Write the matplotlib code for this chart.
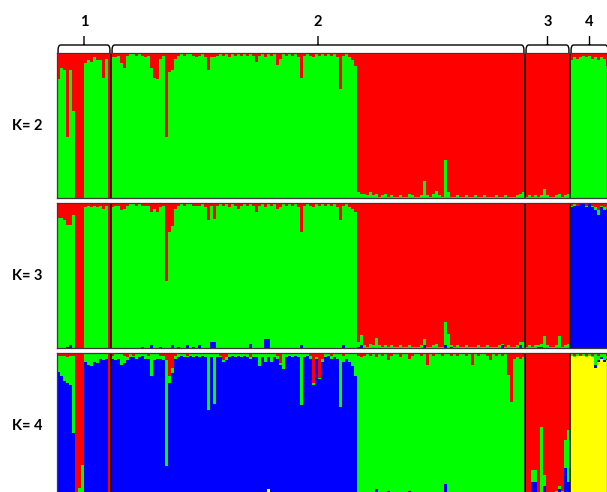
import matplotlib
matplotlib.use("Agg")
import matplotlib.pyplot as plt
import numpy as np
from matplotlib.path import Path
from matplotlib.patches import PathPatch
from matplotlib.transforms import blended_transform_factory

# ---------------- data (membership, %) ----------------
POP_LABELS = ["1", "2", "3", "4"]
POP_SIZES = [18, 138, 15, 13]

# K = 2 : red listed, green = remainder
K2_RED_P1 = [18, 10, 12, 58, 12, 40, 100, 100, 100, 7, 5, 6, 3, 5, 5, 17, 4, 100]
K2_RED_P2 = [3, 3, 2, 7, 10, 2, 1, 1, 2, 1,
             2, 3, 2, 10, 17, 18, 4, 2, 58, 13,
             12, 4, 2, 1, 2, 1, 1, 2, 3, 2,
             1, 3, 12, 3, 3, 2, 1, 2, 1, 3,
             1, 2, 1, 2, 1, 2, 1, 2, 6, 2,
             1, 3, 1, 2, 1, 8, 4, 1, 2, 1,
             2, 1, 3, 17, 2, 1, 2, 3, 1, 2,
             1, 2, 1, 2, 1, 3, 25, 2, 1, 3,
             5, 9, 96, 97, 97, 98, 96, 98, 97, 99,
             98, 97, 99, 98, 99, 99, 98, 99, 99, 97,
             98, 99, 99, 98, 88, 98, 99, 97, 95, 98,
             99, 74, 96, 99, 99, 98, 99, 99, 98, 99,
             99, 98, 99, 99, 98, 99, 99, 99, 98, 99,
             99, 98, 99, 99, 99, 98, 97, 96]
K2_RED_P3 = [99, 98, 99, 98, 99, 98, 94, 98, 99, 99, 98, 97, 99, 98, 97]
K2_RED_P4 = [5, 3, 4, 3, 2, 3, 2, 4, 3, 5, 3, 4, 9]

# K = 3 : red and blue listed, green = remainder
K3_RED_P1 = [10, 10, 12, 15, 15, 8, 100, 100, 100, 3, 2, 3, 2, 3, 2, 4, 2, 100]
K3_RED_P2 = [3, 2, 2, 5, 4, 2, 1, 1, 2, 1,
             2, 2, 2, 6, 4, 6, 3, 2, 54, 20,
             16, 4, 2, 1, 2, 1, 1, 2, 2, 2,
             1, 3, 12, 2, 11, 2, 1, 2, 1, 3,
             1, 2, 4, 2, 1, 2, 1, 2, 6, 2,
             1, 3, 1, 2, 1, 4, 3, 1, 2, 1,
             2, 1, 3, 20, 2, 1, 2, 3, 1, 2,
             1, 2, 1, 2, 1, 3, 12, 2, 1, 3,
             4, 6, 96, 91, 98, 99, 97, 98, 93, 98,
             99, 98, 99, 98, 99, 99, 98, 99, 99, 98,
             99, 99, 99, 98, 94, 99, 99, 98, 97, 99,
             99, 82, 90, 98, 99, 98, 99, 99, 98, 99,
             99, 99, 98, 99, 99, 98, 99, 99, 99, 98,
             97, 99, 98, 99, 99, 98, 96, 96]
K3_RED_P3 = [99, 98, 99, 98, 98, 97, 92, 98, 99, 99, 98, 92, 99, 98, 97]
K3_RED_P4 = [2, 1, 2, 1, 1, 2, 1, 2, 3, 5, 2, 3, 3]

K3_BLUE_P1 = [0, 0, 0, 1, 2, 0, 0, 0, 0, 0, 0, 0, 0, 0, 0, 0, 0, 0]
K3_BLUE_P2 = [0, 0, 0, 0, 0, 0, 0, 0, 0, 0,
              1, 0, 0, 2, 0, 0, 1, 0, 0, 0,
              2, 0, 1, 0, 0, 2, 0, 1, 0, 2,
              0, 0, 0, 4, 4, 0, 0, 0, 0, 0,
              0, 0, 0, 0, 0, 0, 3, 0, 0, 0,
              0, 6, 6, 0, 0, 0, 0, 0, 0, 0,
              0, 0, 0, 2, 0, 0, 0, 0, 0, 0,
              0, 0, 0, 0, 0, 0, 0, 2, 0, 0,
              0, 0, 1, 2, 0, 0, 0, 0, 0, 0,
              0, 0, 0, 0, 0, 0, 0, 0, 0, 0,
              0, 0, 0, 0, 2, 0, 0, 0, 0, 0,
              0, 2, 0, 1, 0, 0, 0, 0, 0, 0,
              0, 0, 0, 0, 0, 0, 0, 0, 0, 0,
              2, 0, 0, 0, 0, 0, 2, 0]
K3_BLUE_P3 = [0, 0, 0, 0, 1, 1, 0, 0, 0, 0, 0, 0, 0, 0, 0]
K3_BLUE_P4 = [97, 98, 98, 99, 99, 97, 99, 97, 95, 92, 97, 95, 96]

# K = 4 : red, green, yellow listed, blue = remainder
K4_RED_P1 = [2, 2, 2, 3, 2, 2, 100, 93, 77, 1, 1, 1, 1, 1, 1, 1, 1, 100]
K4_RED_P2 = [2, 1, 1, 1, 2, 3, 1, 2, 1, 1,
             1, 1, 2, 1, 1, 1, 2, 2, 5, 16,
             10, 2, 1, 1, 1, 2, 1, 1, 1, 1,
             1, 1, 1, 1, 1, 1, 2, 5, 3, 1,
             1, 1, 1, 1, 1, 1, 3, 1, 1, 1,
             1, 1, 1, 1, 1, 2, 7, 1, 1, 1,
             1, 1, 1, 1, 1, 1, 2, 21, 3, 17,
             4, 1, 1, 2, 1, 1, 1, 2, 1, 1,
             1, 1, 2, 3, 2, 1, 2, 1, 3, 1,
             2, 1, 5, 2, 1, 1, 3, 1, 1, 4,
             2, 1, 1, 2, 1, 8, 1, 2, 1, 1,
             2, 1, 1, 2, 1, 2, 1, 1, 2, 1,
             8, 1, 2, 1, 1, 2, 5, 1, 2, 1,
             2, 1, 15, 34, 4, 3, 4, 3]
K4_RED_P3 = [99, 98, 81, 81, 97, 51, 84, 98, 99, 98, 95, 92, 95, 60, 53]
K4_RED_P4 = [1, 2, 1, 2, 1, 2, 1, 2, 1, 2, 1, 1, 2]

K4_GREEN_P1 = [11, 14, 17, 18, 20, 53, 0, 7, 23, 5, 7, 8, 5, 6, 3, 4, 3, 0]
K4_GREEN_P2 = [2, 4, 3, 7, 5, 2, 2, 1, 3, 2,
               1, 3, 2, 15, 4, 3, 2, 3, 73, 5,
               4, 2, 2, 1, 2, 1, 1, 2, 1, 2,
               1, 2, 38, 2, 34, 2, 1, 1, 2, 2,
               1, 2, 1, 2, 1, 2, 1, 2, 2, 8,
               2, 5, 2, 5, 2, 2, 1, 10, 2, 1,
               2, 1, 2, 35, 2, 1, 2, 1, 1, 1,
               2, 2, 1, 2, 2, 3, 36, 4, 3, 5,
               8, 15, 97, 96, 98, 99, 98, 97, 91, 99,
               98, 99, 90, 98, 99, 99, 97, 99, 99, 91,
               98, 99, 99, 98, 95, 92, 99, 98, 99, 99,
               95, 89, 95, 98, 99, 98, 99, 99, 98, 99,
               92, 99, 98, 99, 99, 98, 95, 99, 98, 99,
               98, 99, 85, 66, 96, 97, 96, 97]
K4_GREEN_P3 = [1, 1, 8, 8, 2, 45, 8, 1, 1, 1, 2, 2, 3, 19, 36]
K4_GREEN_P4 = [1, 1, 1, 0, 1, 1, 1, 1, 7, 3, 2, 4, 2]

K4_YELLOW_P1 = [0] * 18
K4_YELLOW_P2 = [0, 0, 0, 0, 0, 0, 0, 0, 0, 0,
                0, 0, 0, 0, 0, 0, 0, 0, 0, 0,
                0, 0, 0, 0, 0, 0, 0, 0, 0, 0,
                0, 0, 0, 0, 0, 0, 0, 0, 0, 0,
                0, 0, 0, 0, 0, 0, 0, 0, 0, 0,
                0, 0, 6, 0, 0, 0, 0, 0, 0, 0,
                0, 0, 0, 0, 0, 0, 0, 0, 0, 0,
                0, 0, 0, 0, 0, 0, 0, 0, 0, 0,
                0, 0, 0, 0, 0, 0, 0, 0, 0, 0,
                0, 0, 0, 0, 0, 0, 0, 0, 0, 0,
                0, 0, 0, 0, 0, 0, 0, 0, 0, 0,
                0, 0, 0, 0, 0, 0, 0, 0, 0, 0,
                0, 0, 0, 0, 0, 0, 0, 0, 0, 0,
                0, 0, 0, 0, 0, 0, 0, 0]
K4_YELLOW_P3 = [0] * 15
K4_YELLOW_P4 = [98, 97, 98, 98, 98, 97, 98, 97, 90, 94, 96, 94, 95]

RED, GREEN, BLUE, YELLOW = "#ff0000", "#00ff00", "#0000ff", "#ffff00"


def cat(*parts):
    return np.concatenate([np.asarray(p, float) for p in parts]) / 100.0


k2_red = cat(K2_RED_P1, K2_RED_P2, K2_RED_P3, K2_RED_P4)
k2_green = 1 - k2_red

k3_red = cat(K3_RED_P1, K3_RED_P2, K3_RED_P3, K3_RED_P4)
k3_blue = cat(K3_BLUE_P1, K3_BLUE_P2, K3_BLUE_P3, K3_BLUE_P4)
k3_green = np.clip(1 - k3_red - k3_blue, 0, 1)

k4_red = cat(K4_RED_P1, K4_RED_P2, K4_RED_P3, K4_RED_P4)
k4_green = cat(K4_GREEN_P1, K4_GREEN_P2, K4_GREEN_P3, K4_GREEN_P4)
k4_yellow = cat(K4_YELLOW_P1, K4_YELLOW_P2, K4_YELLOW_P3, K4_YELLOW_P4)
k4_blue = np.clip(1 - k4_red - k4_green - k4_yellow, 0, 1)

# stacking bottom -> top
PANELS = [
    ("K= 2", [(k2_green, GREEN), (k2_red, RED)]),
    ("K= 3", [(k3_blue, BLUE), (k3_green, GREEN), (k3_red, RED)]),
    ("K= 4", [(k4_yellow, YELLOW), (k4_blue, BLUE), (k4_green, GREEN), (k4_red, RED)]),
]

# ---------------- figure ----------------
W, H = 607, 492
fig = plt.figure(figsize=(W / 100, H / 100), dpi=100)
plt.rcParams["font.family"] = ["Lato", "DejaVu Sans"]

left_px, px_per_ind = 57, 3
panel_tops = [53, 203, 353]
panel_h = 145
n_total = sum(POP_SIZES)
xmax = (W - left_px) / px_per_ind
bounds = np.cumsum([0] + POP_SIZES)

axes = []
for (label, layers), top in zip(PANELS, panel_tops):
    ax = fig.add_axes([left_px / W, 1 - (top + panel_h) / H,
                       (W - left_px) / W, panel_h / H])
    x = np.arange(n_total)
    bottom = np.zeros(n_total)
    for vals, col in layers:
        ax.bar(x, vals, width=1.0, bottom=bottom, align="edge", color=col,
               linewidth=0, edgecolor="none")
        bottom = bottom + vals
    for b in bounds[1:-1]:
        ax.axvline(b, color="black", lw=1.1)
    ax.set_xlim(0, xmax)
    ax.set_ylim(0, 1)
    ax.set_xticks([])
    ax.set_yticks([])
    for s in ax.spines.values():
        s.set_color("#3a3a3a")
        s.set_linewidth(0.9)
    ax.annotate(label, xy=(0, 0.5), xycoords="axes fraction",
                xytext=(-10.5, 0), textcoords="offset points",
                ha="right", va="center", fontsize=10.5, fontweight="bold")
    axes.append(ax)

# population brackets above the first panel
ax0 = axes[0]
trans = blended_transform_factory(ax0.transData, ax0.transAxes)
yh = 1 + 8 / panel_h
yt = 1 + 17 / panel_h
ylab = 1 + 31 / panel_h
d = 0.035
for i, lab in enumerate(POP_LABELS):
    x0 = bounds[i] + 0.35
    x1 = bounds[i + 1] - 0.35
    xc = (bounds[i] + bounds[i + 1]) / 2
    verts = [(x0, 1.0), (x0, yh - d), (x0, yh), (x0 + 0.9, yh),
             (x1 - 0.9, yh), (x1, yh), (x1, yh - d), (x1, 1.0),
             (xc, yh), (xc, yt)]
    codes = [Path.MOVETO, Path.LINETO, Path.CURVE3, Path.CURVE3,
             Path.LINETO, Path.CURVE3, Path.CURVE3, Path.LINETO,
             Path.MOVETO, Path.LINETO]
    patch = PathPatch(Path(verts, codes), transform=trans, fill=False,
                      edgecolor="black", lw=1.0, clip_on=False)
    ax0.add_patch(patch)
    ax0.text(xc, ylab, lab, transform=trans, ha="center", va="center",
             fontsize=10.5, fontweight="bold", clip_on=False)

fig.savefig("out.png", dpi=100)
